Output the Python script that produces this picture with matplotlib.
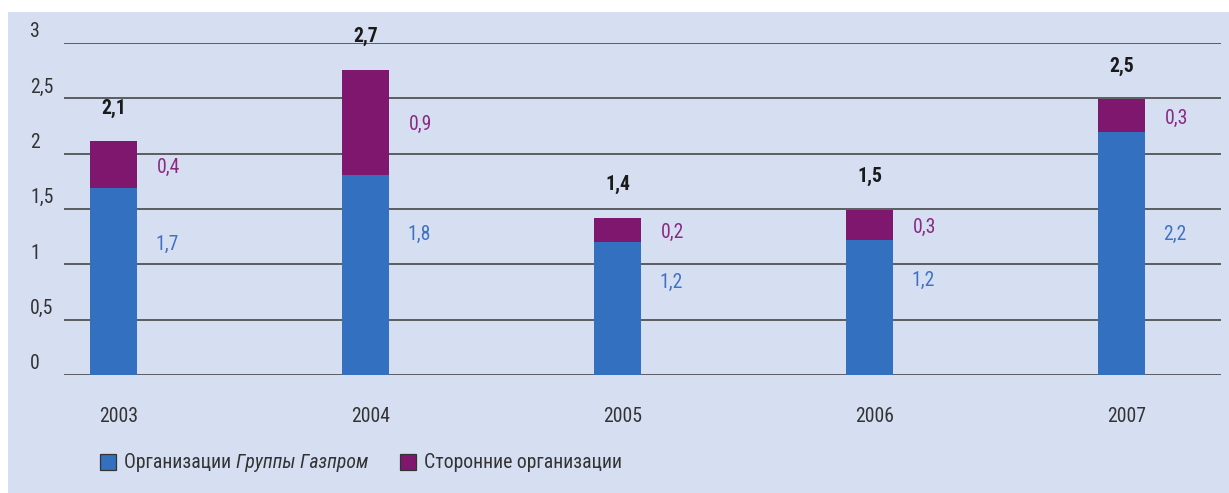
import matplotlib
matplotlib.use("Agg")
import matplotlib.pyplot as plt
from matplotlib.patches import Rectangle
from matplotlib import font_manager as fm

years = ["2003", "2004", "2005", "2006", "2007"]
gazprom = [1.69, 1.81, 1.2, 1.22, 2.2]
external = [0.42, 0.95, 0.22, 0.27, 0.29]
gazprom_labels = ["1,7", "1,8", "1,2", "1,2", "2,2"]
external_labels = ["0,4", "0,9", "0,2", "0,3", "0,3"]
total_labels = ["2,1", "2,7", "1,4", "1,5", "2,5"]
yticks = [0, 0.5, 1, 1.5, 2, 2.5, 3]
ytick_labels = ["0", "0,5", "1", "1,5", "2", "2,5", "3"]
legend_labels = ["Организации ", "Группы Газпром", "Сторонние организации"]

BLUE = "#3370c0"
PURPLE = "#7f176f"
BG = "#d6dff2"
BLUE_TXT = "#3f72c4"
PURPLE_TXT = "#8a2a80"
DARK = "#333333"

fonts = fm.fontManager.ttflist
names = {f.name for f in fonts}
STRETCH = "normal"
FONT = None
for cand in ["Roboto Condensed", "Liberation Sans Narrow", "Arial Narrow", "Open Sans Condensed"]:
    if cand in names:
        FONT = cand
        break
if FONT is None:
    if any(f.name == "DejaVu Sans" and f.stretch == "condensed" for f in fonts):
        FONT = "DejaVu Sans"
        STRETCH = "condensed"
    elif "Roboto" in names:
        FONT = "Roboto"
    else:
        FONT = "DejaVu Sans"
plt.rcParams["font.family"] = [FONT, "DejaVu Sans"]
plt.rcParams["font.stretch"] = STRETCH

W, H = 1229, 493
fig = plt.figure(figsize=(W / 100, H / 100), dpi=100, facecolor="white")
fig.patches.append(Rectangle((8 / W, 0), 1 - 8 / W, 1 - 12 / H, transform=fig.transFigure,
                             facecolor=BG, edgecolor="none", zorder=-10))

ax_left, ax_right = 64 / W, 1221 / W
ax_bot, ax_top = 1 - 375 / H, 1 - 43 / H
ax = fig.add_axes([ax_left, ax_bot, ax_right - ax_left, ax_top - ax_bot])
ax.set_facecolor("none")
ax.set_xlim(-0.196, 4.395)
ax.set_ylim(0, 3)
for s in ax.spines.values():
    s.set_visible(False)
ax.set_xticks([])
ax.set_yticks([])

for t in yticks:
    ax.axhline(t, color="#3a3a3a", lw=1.1, zorder=1)

x = list(range(len(years)))
w = 0.187
ax.bar(x, gazprom, w, color=BLUE, zorder=3)
ax.bar(x, external, w, bottom=gazprom, color=PURPLE, zorder=3)

fs = 14.2
for t, lab in zip(yticks, ytick_labels):
    ax.annotate(lab, xy=(30 / W, t), xycoords=("figure fraction", "data"),
                xytext=(0, 8), textcoords="offset points", ha="left", va="center",
                fontsize=fs, color=DARK)

for i in x:
    top = gazprom[i] + external[i]
    ax.annotate(total_labels[i], xy=(i, top), xytext=(0, 24),
                textcoords="offset points", ha="center", va="center",
                fontsize=fs, fontweight="bold", color="#1a1a1a")
    ax.annotate(external_labels[i], xy=(i + w / 2, gazprom[i] + external[i] / 2),
                xytext=(14, -2), textcoords="offset points", ha="left", va="center",
                fontsize=fs, color=PURPLE_TXT)
    ax.annotate(gazprom_labels[i], xy=(i + w / 2, min(0.7 * gazprom[i], 1.27)),
                xytext=(13, 0), textcoords="offset points", ha="left", va="center",
                fontsize=fs, color=BLUE_TXT)
    ax.annotate(years[i], xy=(i, 0), xytext=(4, -30), textcoords="offset points",
                ha="center", va="center", fontsize=fs, color=DARK)

lfs = 14.2
ly = 1 - 462 / H
sq = 16
for sx, col in [(100, BLUE), (400, PURPLE)]:
    fig.patches.append(Rectangle((sx / W, ly - (sq / 2) / H), sq / W, sq / H,
                                 transform=fig.transFigure, facecolor=col,
                                 edgecolor="#333333", lw=0.9))
t1 = fig.text(124 / W, ly, legend_labels[0], ha="left", va="center", fontsize=lfs, color=DARK)
fig.canvas.draw()
bb = t1.get_window_extent()
fig.text(bb.x1 / W, ly, legend_labels[1], ha="left", va="center", fontsize=lfs,
         color=DARK, style="italic")
fig.text(424 / W, ly, legend_labels[2], ha="left", va="center", fontsize=lfs, color=DARK)

fig.savefig("out.png", dpi=100, facecolor="white")
